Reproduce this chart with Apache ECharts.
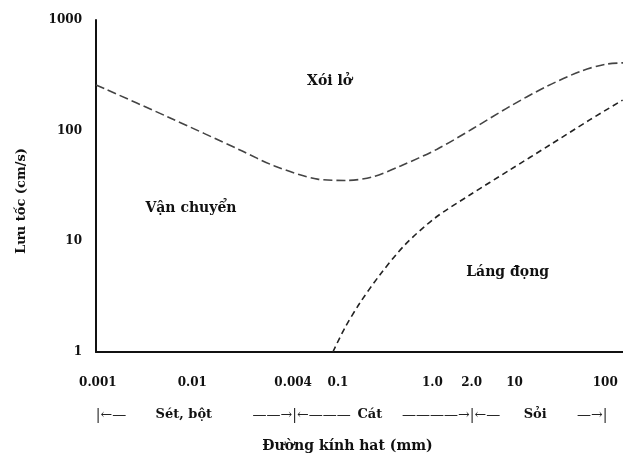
<!DOCTYPE html>
<html>
<head>
<meta charset="utf-8">
<script src="https://cdn.jsdelivr.net/npm/echarts@6/dist/echarts.min.js"></script>
<style>
  html, body { margin: 0; padding: 0; background: #fff; }
  #chart { width: 623px; height: 456px; }
</style>
</head>
<body>
<div id="chart"></div>
<script>
// x is a schematic size scale: one unit is about one decade of grain diameter
const sizeTickPos = [0.02, 1.03, 2.11, 2.59, 3.6, 4.02, 4.48, 5.45];
const sizeTickLabels = ['0.001', '0.01', '0.004', '0.1', '1.0', '2.0', '10', '100'];

// grain class row under the axis (b = bold name, a = arrow)
const classPos = [0.16, 0.94, 2.2, 2.93, 3.8, 4.7, 5.31];
const classLabels = ['{a||←—}', '{b|Sét, bột}', '{a|——→|←———}', '{b|Cát}', '{a|————→|←—}', '{b|Sỏi}', '{a|—→|}'];

const velocityTicks = [1, 10, 100, 1000];

// erosion curve (upper) and deposition curve (lower), velocity in cm/s
const erosionX = [0, 0.77, 1.54, 1.91, 2.37, 2.68, 2.95, 3.26, 3.65, 4.03, 4.42, 4.81, 5.19, 5.45, 5.64];
const erosionV = [259, 133, 67, 48, 36.5, 35.5, 38, 48, 68, 104, 164, 248, 345, 398, 410];
const depositX = [2.535, 2.663, 2.824, 3.037, 3.305, 3.626, 4.0, 4.428, 4.856, 5.283, 5.636];
const depositV = [1, 1.65, 2.77, 4.96, 9.27, 16.2, 26.2, 44.1, 74.2, 125, 189];

const zoneNames = ['Xói lở', 'Vận chuyển', 'Láng đọng'];
const zoneX = [2.5, 1.016, 4.406];
const zoneV = [280, 20, 5.28];

const serif = '"DejaVu Serif", "Liberation Serif", serif';
const ink = '#111';

const chart = echarts.init(document.getElementById('chart'));

const option = {
  backgroundColor: '#fff',
  animation: false,
  grid: { left: 96, right: 0, top: 20, bottom: 104, outerBoundsMode: 'none' },
  xAxis: [
    {
      type: 'value',
      min: 0,
      max: 5.64,
      axisLine: { show: true, lineStyle: { color: ink, width: 2 } },
      axisTick: { show: false },
      splitLine: { show: false },
      axisLabel: {
        customValues: sizeTickPos,
        margin: 25,
        color: ink,
        fontFamily: serif,
        fontWeight: 'bold',
        fontSize: 12,
        formatter: v => {
          const i = sizeTickPos.findIndex(p => Math.abs(p - v) < 1e-6);
          return i >= 0 ? sizeTickLabels[i] : '';
        }
      }
    },
    {
      type: 'value',
      position: 'bottom',
      min: 0,
      max: 5.64,
      axisLine: { show: false },
      axisTick: { show: false },
      splitLine: { show: false },
      axisLabel: {
        customValues: classPos,
        margin: 56,
        formatter: v => {
          const i = classPos.findIndex(p => Math.abs(p - v) < 1e-6);
          return i >= 0 ? classLabels[i] : '';
        },
        rich: {
          a: { color: '#222', fontFamily: serif, fontSize: 14 },
          b: { color: ink, fontFamily: serif, fontWeight: 'bold', fontSize: 13 }
        }
      },
      name: 'Đường kính hat (mm)',
      nameLocation: 'middle',
      nameGap: 87,
      nameTextStyle: {
        color: ink,
        fontFamily: serif,
        fontWeight: 'bold',
        fontSize: 14,
        padding: [0, 24, 0, 0]
      }
    }
  ],
  yAxis: {
    type: 'log',
    logBase: 10,
    min: 1,
    max: 1000,
    axisLine: { show: true, lineStyle: { color: ink, width: 2 } },
    axisTick: { show: false },
    splitLine: { show: false },
    axisLabel: {
      customValues: velocityTicks,
      margin: 14,
      color: ink,
      fontFamily: serif,
      fontWeight: 'bold',
      fontSize: 12,
      formatter: v => String(v)
    },
    name: 'Lưu tốc (cm/s)',
    nameLocation: 'middle',
    nameGap: 68,
    nameTextStyle: {
      color: ink,
      fontFamily: serif,
      fontWeight: 'bold',
      fontSize: 13,
      padding: [0, 30, 0, 0]
    }
  },
  series: [
    {
      type: 'line',
      data: erosionX.map((x, i) => [x, erosionV[i]]),
      smooth: 0.3,
      symbol: 'none',
      lineStyle: { color: '#444', width: 1.6, type: [9, 4] }
    },
    {
      type: 'line',
      data: depositX.map((x, i) => [x, depositV[i]]),
      smooth: 0.3,
      symbol: 'none',
      lineStyle: { color: '#222', width: 1.6, type: [6, 4] }
    },
    {
      type: 'scatter',
      symbolSize: 0,
      itemStyle: { opacity: 1 },
      data: zoneX.map((x, i) => ({ value: [x, zoneV[i]], name: zoneNames[i] })),
      label: {
        show: true,
        position: 'inside',
        formatter: p => p.name,
        color: ink,
        opacity: 1,
        fontFamily: serif,
        fontWeight: 'bold',
        fontSize: 14
      }
    }
  ]
};

chart.setOption(option);
</script>
</body>
</html>
